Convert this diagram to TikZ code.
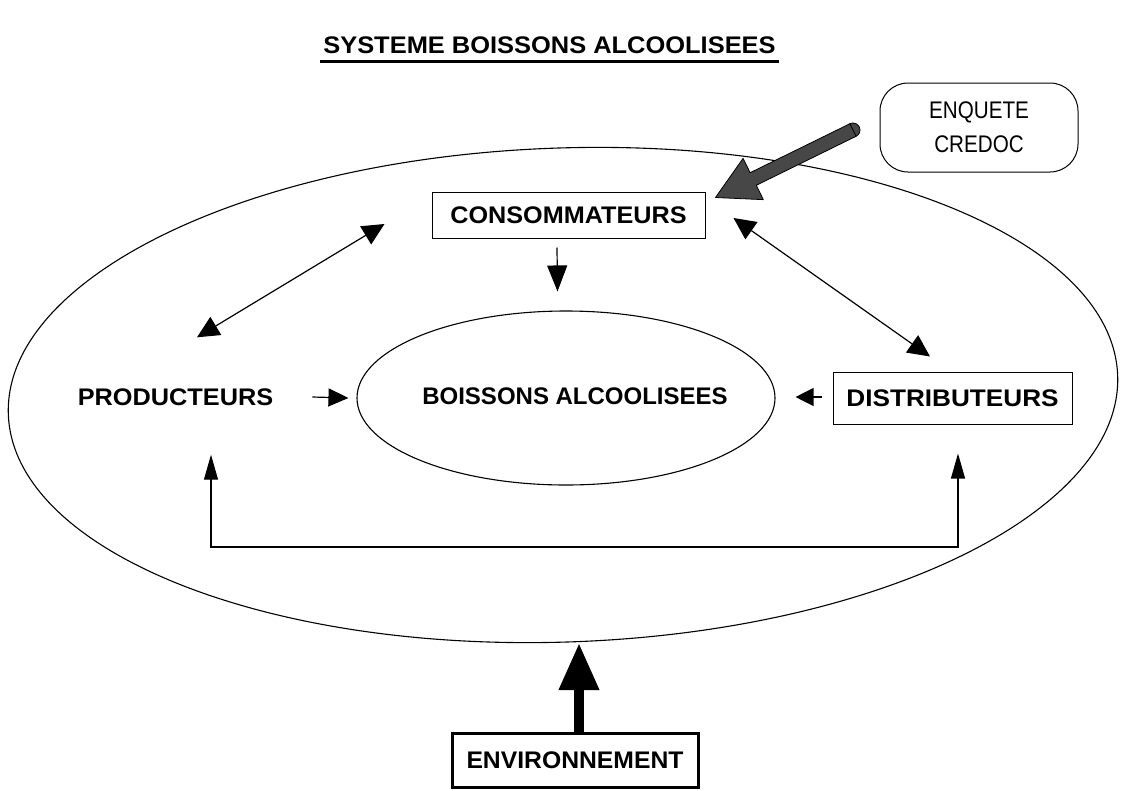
\documentclass[tikz,border=0pt]{standalone}
\usepackage{fontspec}
\setmainfont{Liberation Sans}
\usepackage{graphicx}
\usetikzlibrary{arrows.meta,calc,shapes.geometric}
\newcommand{\sx}[2]{\scalebox{#1}[1]{#2}}
\begin{document}
\begin{tikzpicture}[x=1pt,y=-1pt,
  lab/.style={font=\fontsize{24}{28}\selectfont\bfseries, inner sep=0pt},
  boxed/.style={lab, draw, line width=1pt, inner sep=0pt},
  arr/.style={line width=1.2pt, -{Triangle[length=20pt,width=18pt]}},
  darr/.style={line width=1.2pt, {Triangle[length=22pt,width=21pt]}-{Triangle[length=22pt,width=21pt]}},
  barr/.style={line width=1.2pt, {Triangle[length=25pt,width=14pt]}-{Triangle[length=25pt,width=14pt]}},
  hatch/.style={fill=black!72, draw=black, line width=0.8pt, line join=round}
]
\useasboundingbox (0,0) rectangle (1129,790);

% title
\node[lab] (title) at (549.5,45) {\sx{1.06}{SYSTEME BOISSONS ALCOOLISEES}};
\draw[line width=2.5pt] ($(title.south west)+(-3,8)$) -- ($(title.south east)+(3,8)$);

% ellipses
\node[ellipse, draw, line width=1.1pt, minimum width=1110pt, minimum height=494pt, inner sep=0pt, rotate=2] (outer) at (563,395) {};
\node[ellipse, draw, line width=1.1pt, minimum width=418pt, minimum height=174pt, inner sep=0pt] (inner) at (566,398) {};
\node[lab] (boiss) at (575,396) {\sx{1.0}{BOISSONS ALCOOLISEES}};

% boxes
\node[boxed, minimum width=273pt, minimum height=46pt] (cons) at (568.5,215) {\sx{1.05}{CONSOMMATEURS}};
\node[boxed, minimum width=239pt, minimum height=52pt] (dist) at (952.5,398) {\sx{1.09}{DISTRIBUTEURS}};
\node[lab] (prod) at (175.5,397) {\sx{1.054}{PRODUCTEURS}};
\node[boxed, line width=3pt, minimum width=246pt, minimum height=54pt] (env) at (575,760) {\sx{1.03}{ENVIRONNEMENT}};
\node[draw, line width=1pt, rounded corners=28pt, minimum width=198pt, minimum height=89pt, inner sep=0pt,
      align=center, font=\fontsize{24}{34}\selectfont] (credoc) at (979,127.5) {\sx{0.86}{ENQUETE}\\\sx{0.86}{CREDOC}};

% arrows into inner ellipse
\draw[arr] ($(prod.east)+(39,0)$) -- ($(inner.west)+(-8,0)$);
\draw[arr, -{Triangle[length=18pt,width=18pt]}] ($(dist.west)+(-11,-1)$) -- ($(inner.east)+(20,-1)$);
\draw[arr, -{Triangle[length=26pt,width=20pt]}] ($(cons.south)+(-11.5,9)$) -- ($(inner.north)+(-8.5,-19)$);

% double arrows
\draw[darr] ($(cons.west)+(-47,9)$) -- ($(prod.north)+(21.5,-51)$);
\draw[darr] ($(cons.east)+(28,3)$) -- ($(dist.north)+(-22.5,-15)$);

% bottom bracket
\coordinate (bl) at (211,547);
\coordinate (br) at (958,547);
\draw[barr] ($(prod.south)+(35.5,49)$) -- (bl) -- (br) -- ($(dist.south)+(5.5,29)$);

% environment arrow
\coordinate (obot) at (579,643);
\draw[line width=10pt, -{Triangle[length=47pt,width=38pt]}] ($(env.north)+(4,0)$) -- (obot);

% credoc arrow
\coordinate (ct) at (853,130);
\coordinate (cp) at ($(cons.north east)+(10,6)$);
\coordinate (cb) at ($(cp)!42pt!(ct)$);
\coordinate (h1) at ($(cb)!23pt!90:(cp)$);
\coordinate (h2) at ($(cb)!23pt!-90:(cp)$);
\coordinate (s1) at ($(cb)!7pt!90:(cp)$);
\coordinate (s2) at ($(cb)!7pt!-90:(cp)$);
\coordinate (t1) at ($(ct)!7pt!90:(cp)$);
\coordinate (t2) at ($(ct)!7pt!-90:(cp)$);
\filldraw[hatch] (ct) circle (7pt);
\filldraw[hatch] (cp) -- (h1) -- (s1) -- (t1) -- (t2) -- (s2) -- (h2) -- cycle;
\end{tikzpicture}
\end{document}
